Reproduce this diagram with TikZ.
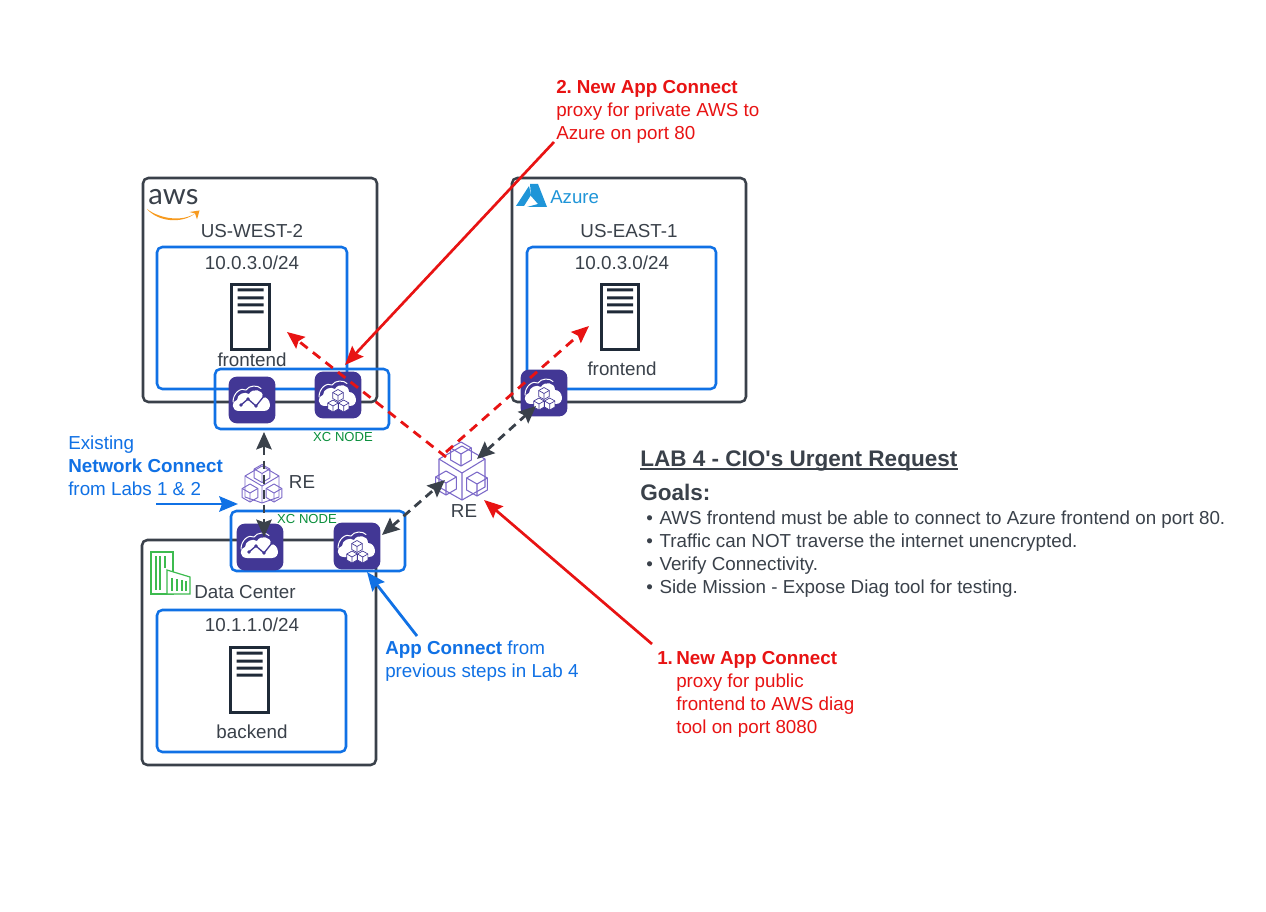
\documentclass[tikz,border=0pt]{standalone}
\usepackage{fontspec}
\setmainfont{Liberation Sans}
\newfontfamily\logofont{Lato}
\usetikzlibrary{arrows.meta}
\definecolor{ink}{HTML}{3A414A}
\definecolor{srv}{HTML}{1F2A38}
\definecolor{bluee}{HTML}{1071E5}
\definecolor{redd}{HTML}{E81313}
\definecolor{greenn}{HTML}{0A8F3C}
\definecolor{purp}{HTML}{423795}
\definecolor{lilac}{HTML}{7B68C8}
\definecolor{dcg}{HTML}{3DBB4F}
\definecolor{azureb}{HTML}{1F95D8}
\definecolor{awso}{HTML}{F79A1E}
\tikzset{
  x=0.75pt,y=-0.75pt,
  region/.style={draw=ink,line width=1.9pt,rounded corners=4pt},
  subnet/.style={draw=bluee,line width=1.9pt,rounded corners=4pt},
  icon/.style={fill=purp,rounded corners=6pt,minimum size=35pt,inner sep=0pt},
  body/.style={font=\fontsize{14.1pt}{17.25pt}\selectfont,text=ink,inner sep=0pt},
  xc/.style={font=\fontsize{9.8pt}{12pt}\selectfont,text=greenn,inner sep=0pt},
  leftb/.style={body,align=left,anchor=north west},
  srvbox/.style={draw=srv,line width=2.4pt,fill=white,minimum width=28pt,minimum height=49pt,inner sep=0pt},
  solidred/.style={draw=redd,line width=2pt,-{Stealth[length=14pt,width=11.5pt,inset=2pt]}},
  dashred/.style={draw=redd,line width=2.1pt,dash pattern=on 7pt off 5pt,-{Stealth[length=13pt,width=11pt,inset=2pt]}},
  dashink/.style={draw=ink,line width=2.1pt,dash pattern=on 6.5pt off 4.5pt,{Stealth[length=13pt,width=11.5pt,inset=2pt]}-{Stealth[length=13pt,width=11.5pt,inset=2pt]}},
  solidblue/.style={draw=bluee,line width=2.1pt,-{Stealth[length=14pt,width=11.5pt,inset=2pt]}},
  cubeline/.pic={
    \draw[line join=round] (0,-12)--(10.4,-6)--(10.4,6)--(0,12)--(-10.4,6)--(-10.4,-6)--cycle;
    \draw[line join=round] (-10.4,-6)--(0,0)--(10.4,-6) (0,0)--(0,12);
  },
  whitecube/.pic={
    \draw[fill=white,draw=purp,line width=0.5pt,line join=round] (0,-6)--(5.2,-3)--(5.2,3)--(0,6)--(-5.2,3)--(-5.2,-3)--cycle;
    \draw[draw=purp,line width=0.5pt] (-5.2,-3)--(0,0)--(5.2,-3) (0,0)--(0,6);
  },
  cloudbase/.pic={
    \fill[white] (-13,11) .. controls (-21,11) and (-21,1) .. (-15,0) .. controls (-15,-6) and (-7,-9) .. (-3,-6) .. controls (0,-12) and (11,-11) .. (11,-3) .. controls (19,-3) and (21,11) .. (12,11) -- cycle;
    \draw[white,line width=0.75pt,line cap=round] (-19,2) .. controls (-19,-7) and (-11,-13) .. (-6,-10) .. controls (-3,-15) and (6,-15) .. (9,-11.5);
  },
  netcloud/.pic={
    \pic {cloudbase};
    \draw[purp,line width=1pt,line join=round] (-11,5)--(-4,-1)--(4,6)--(12,-4);
    \fill[purp] (-11,5) circle (1.9) (-4,-1) circle (1.9) (4,6) circle (1.9) (12,-4) circle (1.9);
  },
  cubecloud/.pic={
    \pic {cloudbase};
    \pic at (0,0.5) {whitecube};
    \pic at (-5,11) {whitecube};
    \pic at (5.7,11) {whitecube};
  },
  srvbars/.pic={
    \fill[srv] (-13,-28.5) rectangle (13,-25.5) (-13,-20.5) rectangle (13,-17.5) (-13,-13.5) rectangle (13,-10.5) (-13,-6.5) rectangle (13,-3.5);
  },
}
\begin{document}
\begin{tikzpicture}
\useasboundingbox (0,0) rectangle (1266,912);
\fill[white] (0,0) rectangle (1266,912);

% regions
\draw[region] (143,178) rectangle (377,402);
\draw[region] (512,178) rectangle (746,402);
\draw[region] (142,540) rectangle (376,765);
\draw[subnet] (157,247) rectangle (347,389);
\draw[subnet] (527,247) rectangle (716,389);
\draw[subnet] (157,610) rectangle (346,752);
\draw[subnet] (215,369) rectangle (389,429);
\draw[subnet] (231,511) rectangle (405,571);

% servers
\node[srvbox] (srvA) at (250.5,317) {};
\pic at (250.5,317) {srvbars};
\node[srvbox] (srvB) at (620,317) {};
\pic at (620,317) {srvbars};
\node[srvbox] (srvC) at (249.5,680) {};
\pic at (249.5,680) {srvbars};

% AWS logo
\node[inner sep=0pt,anchor=base,font=\logofont\fontsize{22pt}{22pt}\selectfont,text=ink] (awslogo) at (173.5,205) {aws};
\fill[awso] (147,209) .. controls (160,219) and (182,222) .. (195,213.5) .. controls (182,224) and (158,222) .. (147,209) -- cycle;
\fill[awso] (189.5,212) -- (199.5,210.5) -- (197,219.5) -- (195,213.5) -- cycle;

% Azure logo
\fill[azureb] (530,184) -- (538,184) -- (547,207) -- (527,207) -- (538,204) -- (531,196) -- cycle;
\fill[azureb] (529,186) -- (516,206) -- (524,206) -- (531,195) -- cycle;
\node[inner sep=0pt,font=\fontsize{14pt}{14pt}\selectfont,text=azureb,anchor=west] (azurelogo) at (550,197) {Azure};

% data centre icon
\begin{scope}[dcg,line width=0.9pt]
\draw (151,552) rectangle (173,594);
\fill[white] (167,570) -- (190,577) -- (190,594) -- (167,594) -- cycle;
\draw (167,570) -- (190,577) -- (190,594) -- (167,594) -- cycle;
\draw (156,556) -- (156,590) (160,556) -- (160,590) (165,556) -- (165,568);
\draw (172,578) -- (172,591) (177,579) -- (177,591) (182,580) -- (182,591) (186,581) -- (186,591);
\end{scope}

% xc icons
\node[icon] (awsNet) at (252,400) {};
\pic at (252,400) {netcloud};
\node[icon] (awsApp) at (338,395) {};
\pic at (338,395) {cubecloud};
\node[icon] (azApp) at (544,393) {};
\pic at (544,393) {cubecloud};
\node[icon] (dcNet) at (260,547) {};
\pic at (260,547) {netcloud};
\node[icon] (dcApp) at (357,546) {};
\pic at (357,546) {cubecloud};

% RE clusters
\coordinate (reBig) at (462,473);
\begin{scope}[draw=lilac,line width=0.8pt]
\draw[line join=round,fill=white] (462,446)--(485,459)--(485,487)--(462,500)--(439,487)--(439,459)--cycle;
\draw (439,459)--(462,473)--(485,459) (462,473)--(462,500);
\pic[fill=white] at (461,454) {cubeline};
\pic[fill=white] at (446,483) {cubeline};
\pic[fill=white] at (477,484) {cubeline};
\end{scope}
\coordinate (reSmall) at (262,486);
\begin{scope}[draw=lilac,line width=0.7pt]
\draw[line join=round,fill=white] (262,466)--(279,476)--(279,497)--(262,503)--(245,497)--(245,476)--cycle;
\draw (245,476)--(262,486)--(279,476) (262,486)--(262,503);
\pic[fill=white,scale=0.75] at (262,473.5) {cubeline};
\pic[fill=white,scale=0.75] at (250,493) {cubeline};
\pic[fill=white,scale=0.75] at (274,493) {cubeline};
\end{scope}

% connector ends
\coordinate (c2start) at (554,142);
\coordinate (c2end) at (345,365);
\coordinate (rA) at (446,457);
\coordinate (rAend) at (287,332);
\coordinate (rB) at (446,452);
\coordinate (rBend) at (589,326);
\coordinate (upT) at (264,432);
\coordinate (upB) at (264,537);
\coordinate (dA) at (382,535);
\coordinate (dB) at (445,480);
\coordinate (eA) at (477,459);
\coordinate (eB) at (536,406);
\coordinate (c1start) at (652,644);
\coordinate (c1end) at (484,500);
\coordinate (b1start) at (156,504);
\coordinate (b1end) at (238,504);
\coordinate (b2start) at (417,636);
\coordinate (b2end) at (367,572);

\draw[dashred] (rA) -- (rAend);
\draw[dashred] (rB) -- (rBend);
\draw[solidred] (c2start) -- (c2end);
\draw[solidred] (c1start) -- (c1end);
\draw[dashink] (upT) -- (upB);
\draw[dashink] (dA) -- (dB);
\draw[dashink] (eA) -- (eB);
\draw[solidblue] (b1start) -- (b1end);
\draw[solidblue] (b2start) -- (b2end);

% labels
\node[body] (t1) at (252,231) {US-WEST-2};
\node[body] (t2) at (629,231) {US-EAST-1};
\node[body] (t3) at (252,263) {10.0.3.0/24};
\node[body] (t4) at (622,263) {10.0.3.0/24};
\node[body] (t5) at (252,360) {frontend};
\node[body] (t6) at (622,369) {frontend};
\node[body] (t7) at (252,625) {10.1.1.0/24};
\node[body] (t8) at (252,732) {backend};
\node[body,anchor=west] (t9) at (194,592) {Data Center};
\node[body] (t10) at (302,482) {RE};
\node[body] (t11) at (464,511) {RE};
\node[xc] (t12) at (343,437) {XC NODE};
\node[xc] (t13) at (307,519) {XC NODE};

\node[leftb,text=redd] (n2) at (556,80) {\textbf{2.\hspace{-1.5pt} New App Connect}\\proxy for private AWS to\\Azure on port 80};
\node[leftb,text=bluee] (exist) at (68,435.5) {Existing\\\textbf{Network Connect}\\from Labs 1 \& 2};
\node[leftb,text=bluee] (appc) at (385,640.5) {\textbf{App Connect} from\\previous steps in Lab 4};
\node[leftb,text=redd] (n1num) at (657,651) {\textbf{1.}};
\node[leftb,text=redd] (n1) at (676,651) {\textbf{New App Connect}\\proxy for public\\frontend to AWS diag\\tool on port 8080};

\node[body,anchor=base west,font=\fontsize{16.9pt}{20pt}\bfseries\selectfont] (title) at (640,466) {LAB 4 - CIO\textquotesingle s Urgent Request};
\draw[ink,line width=1.5pt] ([yshift=-2.6pt]title.base west) -- ([yshift=-2.6pt]title.base east);
\node[body,anchor=base west,font=\fontsize{16.9pt}{20pt}\bfseries\selectfont] (goals) at (640,500.5) {Goals:};
\node[leftb] (list) at (646,510.5) {\textbullet\hspace{5pt}AWS frontend must be able to connect to Azure frontend on port 80.\\
\textbullet\hspace{5pt}Traffic can NOT traverse the internet unencrypted.\\
\textbullet\hspace{5pt}Verify Connectivity.\\
\textbullet\hspace{5pt}Side Mission - Expose Diag tool for testing.};
\end{tikzpicture}
\end{document}
